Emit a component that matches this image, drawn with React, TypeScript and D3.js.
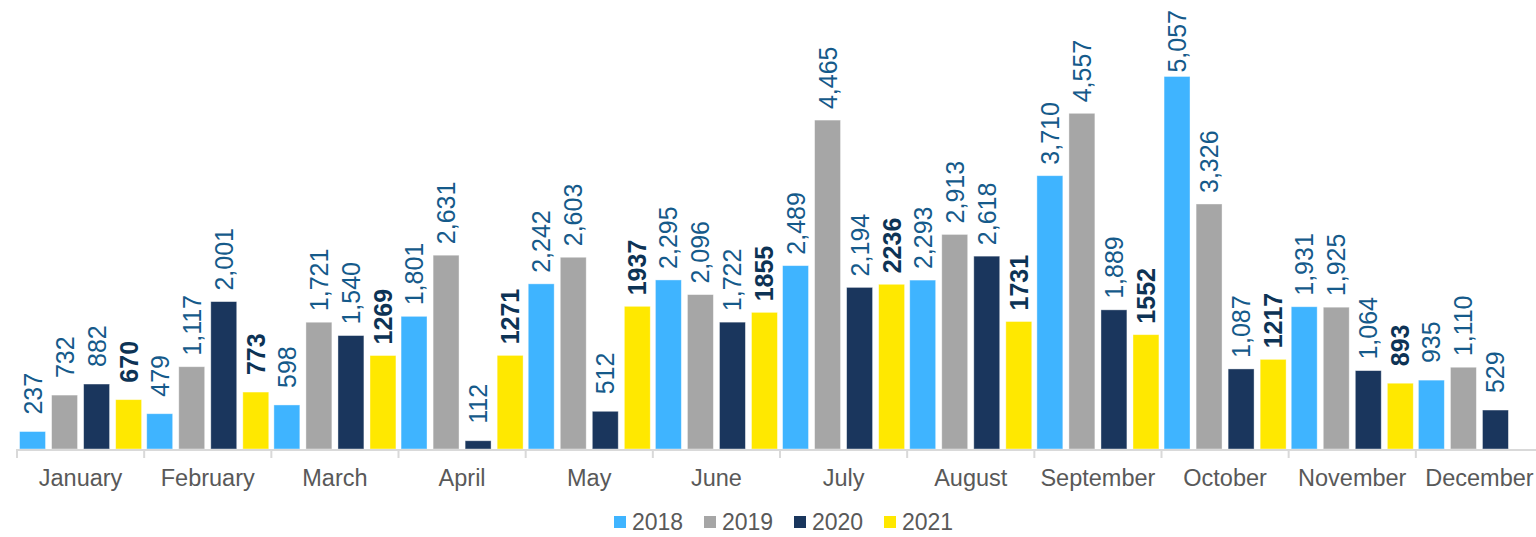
import React from "react";
import * as d3 from "d3";

const months = ["January","February","March","April","May","June","July","August","September","October","November","December"];
const years = ["2018","2019","2020","2021"];
const v2018 = [237,479,598,1801,2242,2295,2489,2293,3710,5057,1931,935];
const v2019 = [732,1117,1721,2631,2603,2096,4465,2913,4557,3326,1925,1110];
const v2020 = [882,2001,1540,112,512,1722,2194,2618,1889,1087,1064,529];
const v2021: (number|null)[] = [670,773,1269,1271,1937,1855,2236,1731,1552,1217,893,null];
const colors = ["#3FB4FF","#A6A6A6","#1A365D","#FFE800"];

export default function App() {
  const W = 1536, H = 537;
  const series = [v2018, v2019, v2020, v2021];
  const x0 = d3.scaleBand<string>().domain(months).range([17, 1543]).padding(0);
  const x1 = d3.scaleBand<string>().domain(years).range([0, x0.bandwidth()]).paddingInner(0.19).paddingOuter(0.08);
  const y = d3.scaleLinear().domain([0, 6000]).range([449, 7]);
  const fmt = d3.format(",");
  const font = "'Liberation Sans', Arial, sans-serif";
  const fs = 25;
  const textLen = (s: string) => s.split("").reduce((a, c) => a + (c === "," ? 0.278 : 0.556), 0) * fs;
  return (
    <svg width={W} height={H} style={{ position: "absolute", left: 0, top: 0 }}>
      <rect width={W} height={H} fill="#fff" />
      {months.map((m, i) => (
        <g key={m}>
          {series.map((s, k) => {
            const v = s[i];
            if (v == null) return null;
            const bx = x0(m)! + x1(years[k])!;
            const bw = x1.bandwidth();
            const cx = bx + bw / 2;
            const label = k === 3 ? String(v) : fmt(v);
            const gap = label.length <= 3 ? 17 : 11;
            const ty = Math.max(y(v) - gap, 10 + textLen(label));
            return (
              <g key={k}>
                <rect x={bx} y={y(v)} width={bw} height={449 - y(v)} fill={colors[k]} stroke="#ffffff" strokeOpacity={0.5} strokeWidth={0.8} />
                <text transform={`translate(${cx + 9},${ty}) rotate(-90)`} fontFamily={font} fontSize={fs}
                  fontWeight={k === 3 ? "bold" : "normal"} fill={k === 3 ? "#0D3355" : "#155A8A"}>
                  {label}
                </text>
              </g>
            );
          })}
          <text x={x0(m)! + x0.bandwidth() / 2} y={486} textAnchor="middle" fontFamily={font} fontSize={23.5} fill="#595959">{m}</text>
        </g>
      ))}
      <line x1={17} x2={1536} y1={450} y2={450} stroke="#D9D9D9" strokeWidth={2} />
      {months.map((m) => (
        <line key={"t" + m} x1={x0(m)!} x2={x0(m)!} y1={449} y2={458} stroke="#D9D9D9" strokeWidth={2} />
      ))}
      {years.map((yr, k) => {
        const lx = 614 + k * 90;
        return (
          <g key={yr}>
            <rect x={lx} y={516} width={12} height={12} fill={colors[k]} />
            <text x={lx + 18} y={530} fontFamily={font} fontSize={23} fill="#595959">{yr}</text>
          </g>
        );
      })}
    </svg>
  );
}
